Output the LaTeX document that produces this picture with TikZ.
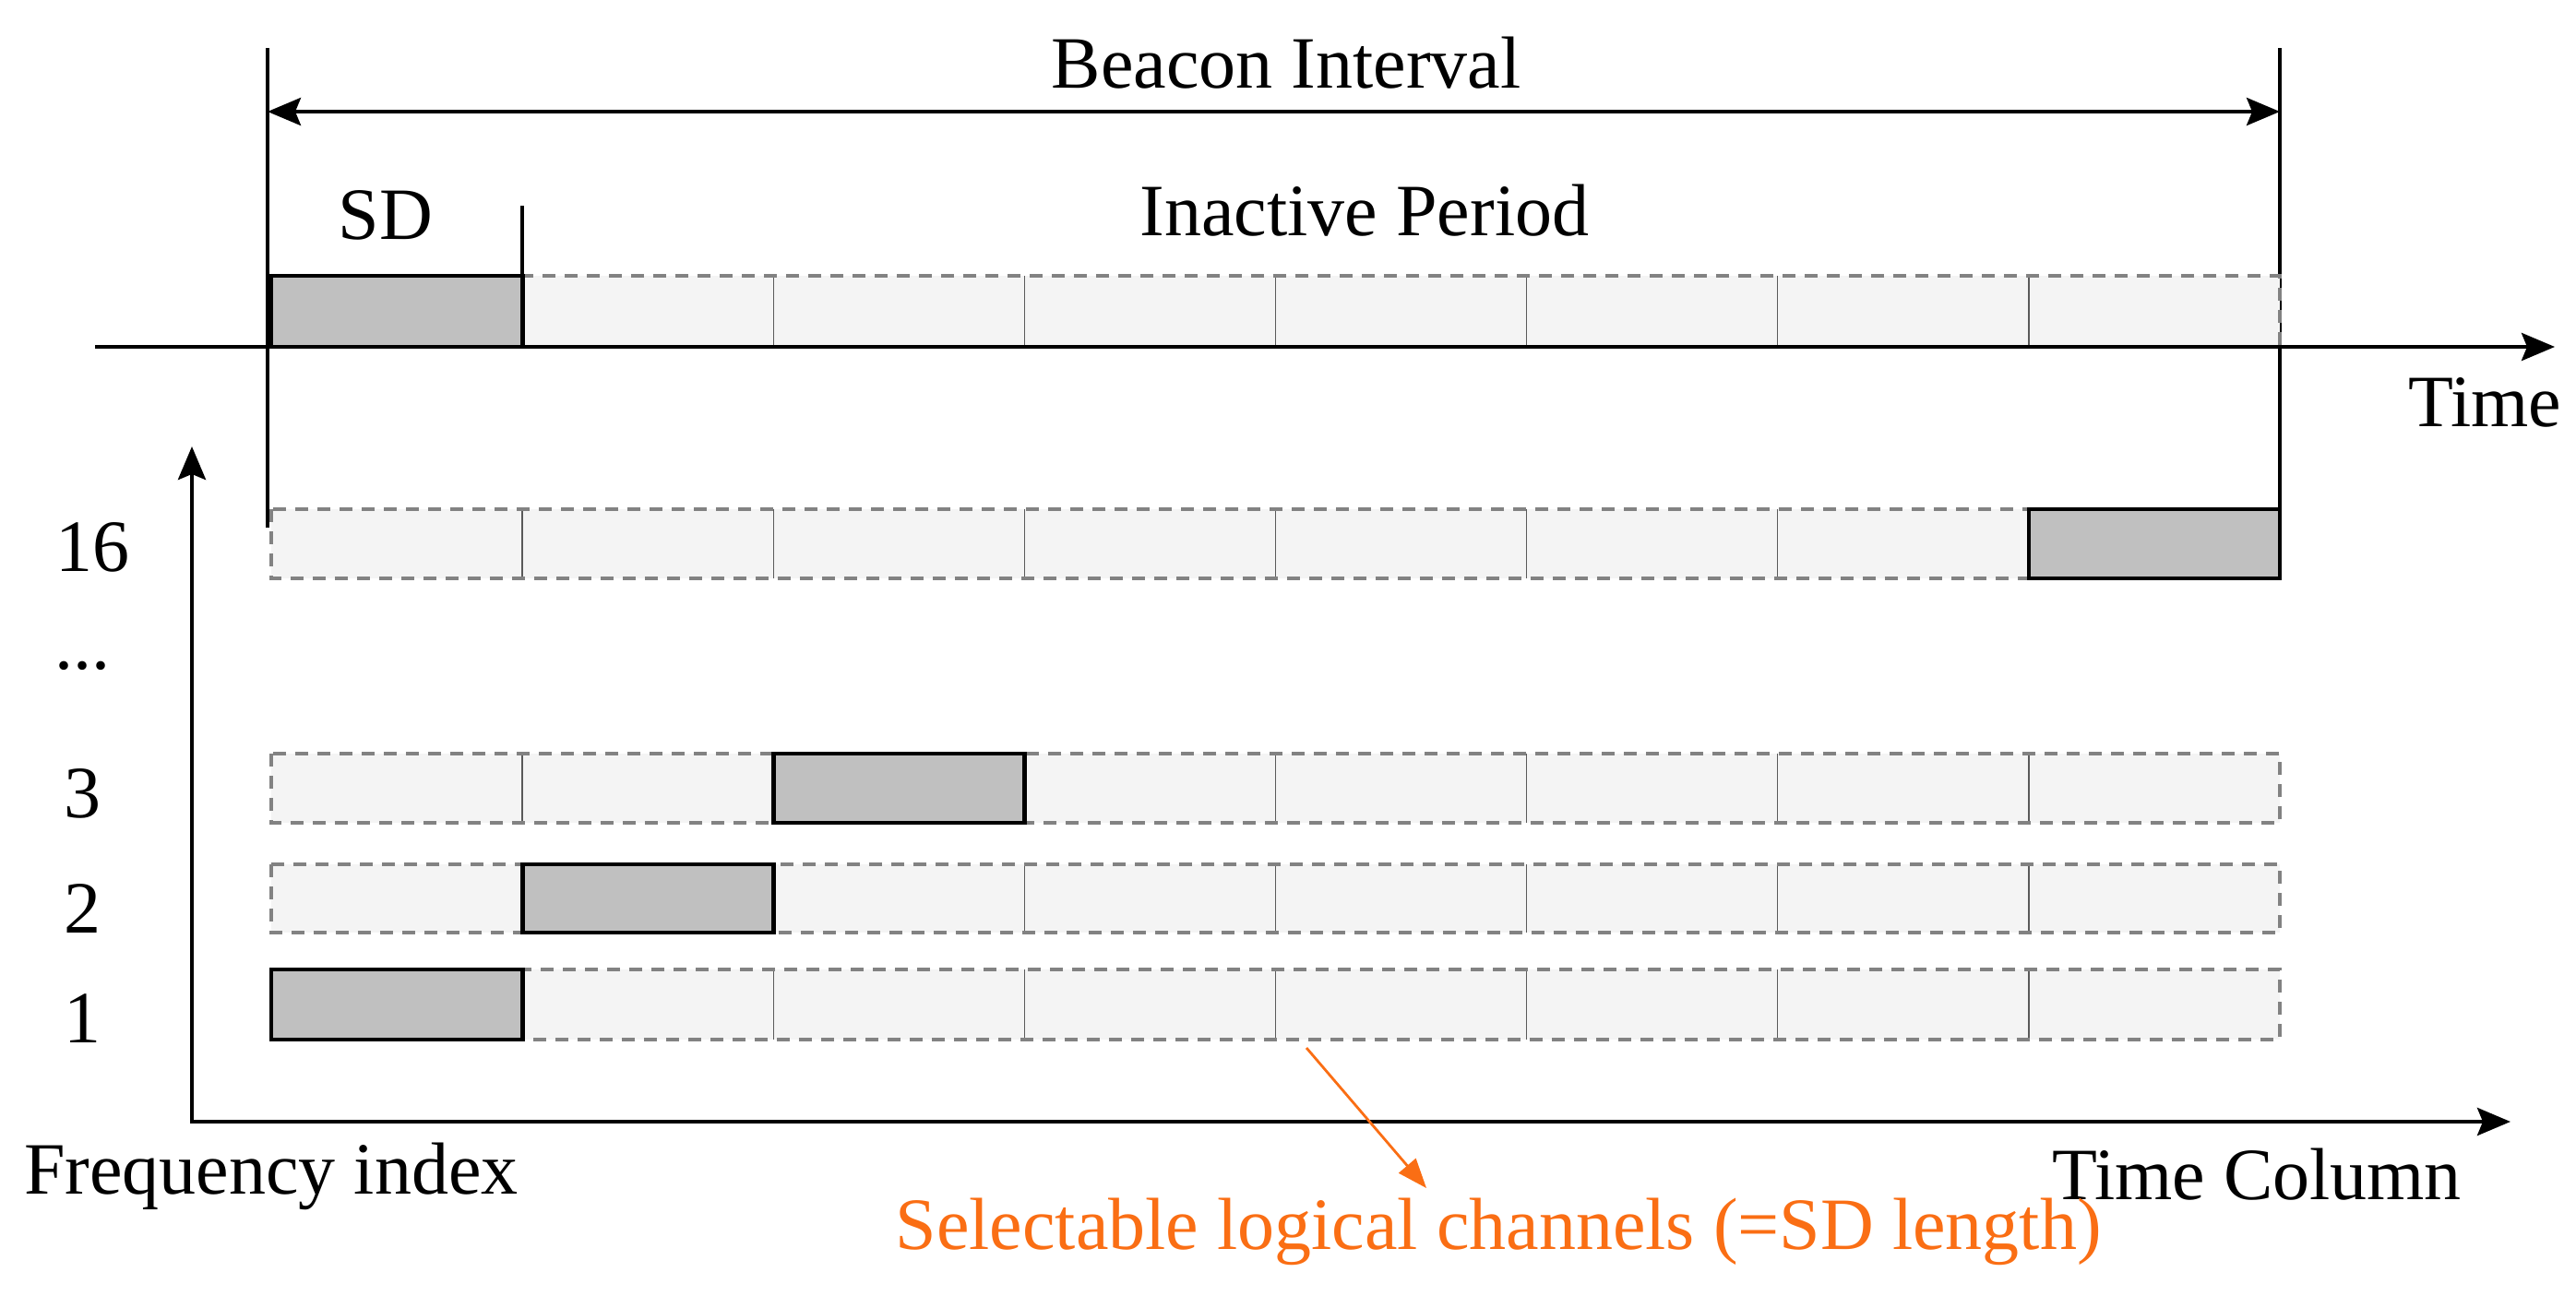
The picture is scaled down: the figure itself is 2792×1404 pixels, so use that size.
\documentclass[tikz,border=0pt]{standalone}
\usepackage{fontspec}
\setmainfont{Liberation Serif}
\usetikzlibrary{arrows.meta}
\definecolor{cellfill}{RGB}{244,244,244}
\definecolor{sdfill}{RGB}{192,192,192}
\definecolor{dashgray}{RGB}{130,130,130}
\definecolor{divgray}{RGB}{90,90,90}
\definecolor{orng}{RGB}{250,110,20}
\begin{document}
\begin{tikzpicture}[x=0.25pt,y=-0.25pt,
  font=\fontsize{20}{24}\selectfont,
  lbl/.style={inner sep=0pt},
  rowedge/.style={draw=dashgray,line width=0.8pt,dash pattern=on 3.5pt off 2.5pt},
  divider/.style={draw=divgray,line width=0.35pt},
  sdbox/.style={fill=sdfill,draw=black,line width=1.2pt},
  axisline/.style={draw=black,line width=1.1pt},
  vline/.style={draw=black,line width=0.8pt},
  tip/.style={-{Stealth[length=9pt,width=7.5pt,inset=1.5pt]}},
  dtip/.style={{Stealth[length=9pt,width=7.5pt,inset=1.5pt]}-{Stealth[length=9pt,width=7.5pt,inset=1.5pt]}}]
\useasboundingbox (0,0) rectangle (2792,1404);
\def\xa{294}
\def\cw{272.125}
% vertical boundary lines of the beacon interval
\coordinate (LT) at (290,52);
\coordinate (LB) at (290,572);
\coordinate (RT) at (2471,52);
\coordinate (RB) at (2471,585);
\draw[vline] (LT) -- (LB);
\draw[vline] (RT) -- (RB);
% SD tick
\coordinate (SDt) at (566,223);
\coordinate (SDb) at (566,299);
\draw[vline] (SDt) -- (SDb);
% rows: top, bottom, gray index
\foreach \t/\b/\g in {299/376/1, 552/627/8, 817/892/3, 937/1011/2, 1051/1127/1}{
  \fill[cellfill] (\xa,\t) rectangle (2471,\b);
  \foreach \i in {1,...,7}{
    \draw[divider] ({\xa+\i*\cw},\t) -- ({\xa+\i*\cw},\b);
  }
  \draw[rowedge] (\xa,\t) rectangle (2471,\b);
  \draw[sdbox] ({\xa+(\g-1)*\cw},\t) rectangle ({\xa+\g*\cw},\b);
}
% time axis
\coordinate (T0) at (103,376);
\coordinate (T1) at (2769,376);
\draw[axisline,tip] (T0) -- (T1);
% beacon interval arrow
\coordinate (BL) at (290,121);
\coordinate (BR) at (2471,121);
\draw[axisline,line width=1pt,dtip] (BL) -- (BR);
% frequency/time column axes
\coordinate (O) at (208,1216);
\coordinate (Ftop) at (208,484);
\coordinate (Cend) at (2721,1216);
\draw[axisline,dtip] (Ftop) -- (O) -- (Cend);
% texts
\node[lbl] (bi) at (1394,68) {Beacon Interval};
\node[lbl] (sd) at (418,233) {SD};
\node[lbl] (ip) at (1479,228) {Inactive Period};
\node[lbl] (time) at (2693,436) {Time};
\node[lbl] (n16) at (100,593) {16};
\node[lbl,anchor=base] (dots) at (89,725) {...};
\node[lbl] (n3) at (89,860) {3};
\node[lbl] (n2) at (89,985) {2};
\node[lbl] (n1) at (89,1104) {1};
\node[lbl] (fi) at (294,1275) {Frequency index};
\node[lbl] (tc) at (2446,1273) {Time Column};
\node[lbl,text=orng] (sel) at (1624,1335) {Selectable logical channels (=SD length)};
\coordinate (oa) at (1416,1136);
\coordinate (ob) at (1546,1288);
\draw[orng,line width=0.7pt,-{Triangle[length=8pt,width=6pt]}] (oa) -- (ob);
\end{tikzpicture}
\end{document}
